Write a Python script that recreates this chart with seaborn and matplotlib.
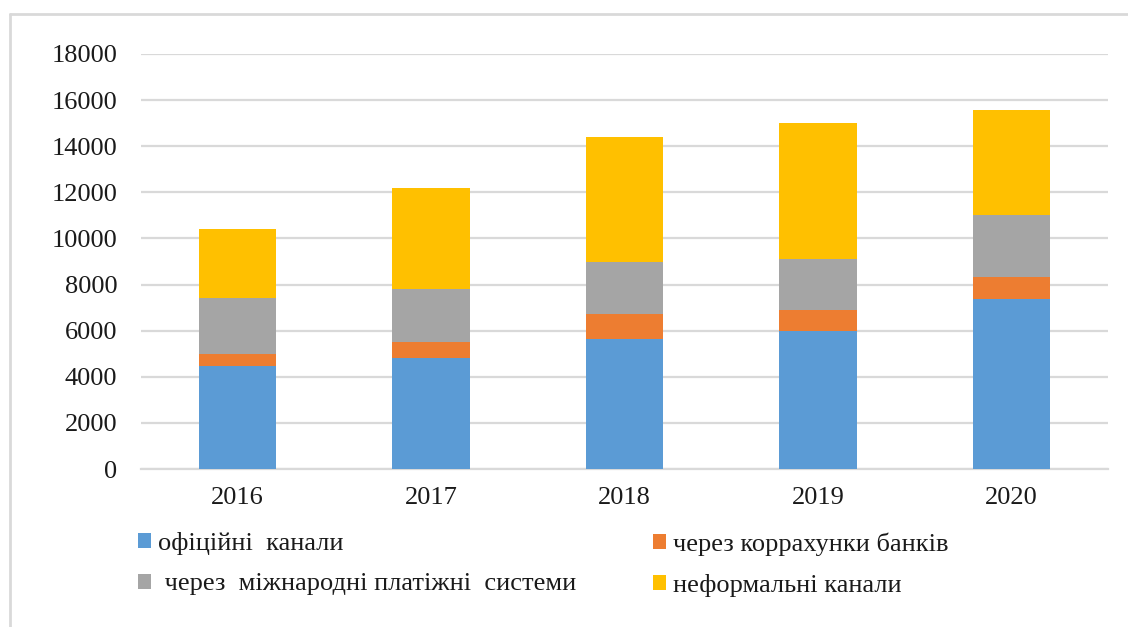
import matplotlib
matplotlib.use("Agg")
import matplotlib.pyplot as plt
import seaborn as sns
import numpy as np
from matplotlib.lines import Line2D
from matplotlib.patches import Patch

years = ["2016", "2017", "2018", "2019", "2020"]
official = [4450, 4800, 5640, 5980, 7370]
corr_accounts = [550, 720, 1080, 920, 940]
intl_payment = [2400, 2280, 2270, 2200, 2700]
informal = [3000, 4400, 5420, 5900, 4570]

labels = ["офіційні  канали", "через коррахунки банків",
          " через  міжнародні платіжні  системи", "неформальні канали"]
colors = ["#5B9BD5", "#ED7D31", "#A5A5A5", "#FFC000"]

sns.set_theme(style="white")
plt.rcParams['font.family'] = ['Liberation Serif', 'DejaVu Serif']

fig = plt.figure(figsize=(11.28, 6.27), dpi=100)
ax = fig.add_axes([141/1128, 1-469/627, (1108-141)/1128, (469-54)/627])

series = [official, corr_accounts, intl_payment, informal]
bottom = np.zeros(len(years))
for vals, col in zip(series, colors):
    sns.barplot(x=years, y=vals, bottom=bottom, color=col, width=0.4,
                ax=ax, saturation=1, edgecolor="none", linewidth=0, zorder=3)
    bottom = bottom + np.array(vals)

ax.set_ylim(0, 18000)
ax.set_xlim(-0.5, 4.5)
ax.set_yticks(np.arange(0, 18001, 2000))
ax.yaxis.grid(True, color="#D9D9D9", linewidth=1.6, zorder=0)
ax.set_axisbelow(True)
for s in ["top", "right", "left"]:
    ax.spines[s].set_visible(False)
ax.spines["bottom"].set_color("#D9D9D9")
ax.spines["bottom"].set_linewidth(1.6)
ax.tick_params(axis="y", length=0, pad=17, labelsize=19, colors="#1a1a1a")
ax.tick_params(axis="x", length=0, pad=13, labelsize=19, colors="#1a1a1a")
ax.set_xlabel("")
ax.set_ylabel("")

handles = [Patch(facecolor=c, edgecolor="none") for c in colors]
common = dict(ncol=1, loc="upper left", frameon=False, fontsize=19,
              handlelength=0.5, handleheight=0.5, handletextpad=0.25,
              labelspacing=0.7, borderaxespad=0, borderpad=0)
leg1 = fig.legend([handles[0], handles[2]], [labels[0], labels[2]],
                  bbox_to_anchor=(138/1128, 1-532/627), **common)
leg2 = fig.legend([handles[1], handles[3]], [labels[1], labels[3]],
                  bbox_to_anchor=(653/1128, 1-532/627), **common)
for leg in (leg1, leg2):
    for t in leg.get_texts():
        t.set_color("#1a1a1a")

# chart border (top and left visible)
fig.add_artist(Line2D([9.5/1128, 9.5/1128], [0, 1-14/627], transform=fig.transFigure,
                      color="#D9D9D9", linewidth=2))
fig.add_artist(Line2D([9.5/1128, 1], [1-14/627, 1-14/627], transform=fig.transFigure,
                      color="#D9D9D9", linewidth=2))

fig.savefig("out.png", dpi=100)
